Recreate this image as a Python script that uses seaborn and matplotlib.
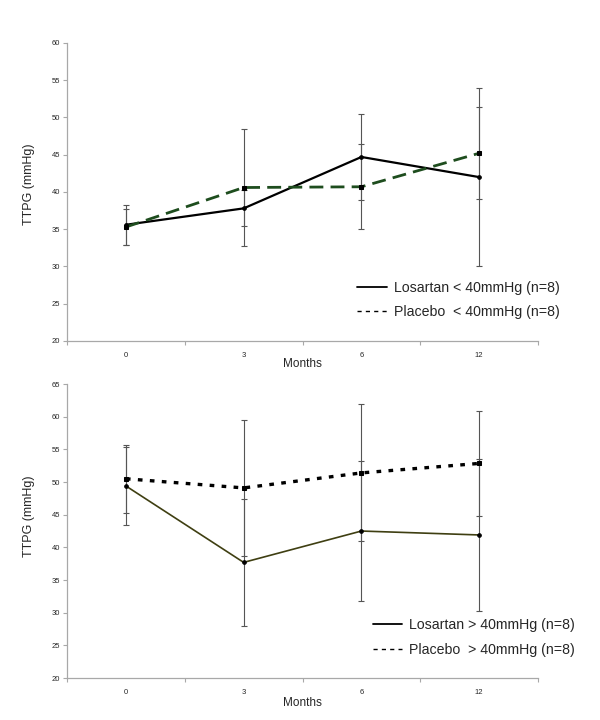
import matplotlib
matplotlib.use("Agg")
import matplotlib.pyplot as plt
from matplotlib.lines import Line2D
import seaborn as sns
import pandas as pd
import numpy as np

months = ["0", "3", "6", "12"]

top_losartan = [35.6, 37.8, 44.7, 42.0]
top_losartan_err = [2.65, 2.4, 5.8, 11.9]
top_placebo = [35.3, 40.6, 40.7, 45.2]
top_placebo_err = [2.4, 7.9, 5.7, 6.2]

bot_losartan = [49.4, 37.7, 42.5, 41.9]
bot_losartan_err = [6.0, 9.7, 10.7, 11.6]
bot_placebo = [50.5, 49.1, 51.4, 52.85]
bot_placebo_err = [5.2, 10.4, 10.5, 8.0]

top_labels = ["Losartan < 40mmHg (n=8)", "Placebo  < 40mmHg (n=8)"]
bot_labels = ["Losartan > 40mmHg (n=8)", "Placebo  > 40mmHg (n=8)"]

sns.set_style("white")
plt.rcParams["font.family"] = ["Liberation Sans", "DejaVu Sans"]

fig = plt.figure(figsize=(6, 7.2), dpi=100)
ax1 = fig.add_axes([0.1117, 0.5264, 0.785, 0.4139])
ax2 = fig.add_axes([0.1117, 0.0583, 0.785, 0.4083])

axis_col = "#a8a8a8"
err_col = "#555555"


def style_axis(ax, ylim, yticks, ylab_y, xlab_y):
    ax.set_xlim(-0.5, 3.5)
    ax.set_ylim(*ylim)
    ax.set_yticks(yticks)
    ax.set_yticklabels([str(v) for v in yticks], fontsize=5.5)
    ax.set_xticks(range(len(months)))
    ax.set_xticklabels(months, fontsize=5.5)
    ax.set_xticks(np.arange(-0.5, len(months)), minor=True)
    ax.tick_params(axis="x", which="major", length=0, pad=8)
    ax.tick_params(axis="x", which="minor", length=3, color=axis_col, width=0.8, direction="out", bottom=True)
    ax.tick_params(axis="y", which="major", length=3, color=axis_col, width=0.8, direction="out", left=True, pad=2)
    for s in ["top", "right"]:
        ax.spines[s].set_visible(False)
    for s in ["left", "bottom"]:
        ax.spines[s].set_color(axis_col)
        ax.spines[s].set_linewidth(0.9)
    ax.set_xlabel("Months", fontsize=8.5)
    ax.set_ylabel("TTPG (mmHg)", fontsize=9)
    ax.yaxis.set_label_coords(-0.068, ylab_y)
    ax.xaxis.set_label_coords(0.5, xlab_y)
    ax.grid(False)


def draw(ax, vals, errs, color, dashes, lw, marker, ms):
    xpos = np.arange(len(months))
    df = pd.DataFrame({"month": months, "x": xpos, "val": vals})
    ax.errorbar(xpos, vals, yerr=errs, fmt="none", ecolor=err_col, elinewidth=0.8,
                capsize=2.2, capthick=0.8, zorder=2)
    sns.lineplot(data=df, x="x", y="val", ax=ax, color=color, lw=lw, sort=False,
                 marker=marker, markersize=ms, markerfacecolor="black", markeredgecolor="black",
                 dashes=False, zorder=3)
    line = ax.lines[-1]
    if dashes is not None:
        line.set_dashes(dashes)


draw(ax1, top_losartan, top_losartan_err, "black", None, 1.6, "o", 2.6)
draw(ax1, top_placebo, top_placebo_err, "#1e4d1e", (5, 2.6), 2.0, "s", 2.6)
draw(ax2, bot_losartan, bot_losartan_err, "#3f3f12", None, 1.2, "o", 2.6)
draw(ax2, bot_placebo, bot_placebo_err, "black", (1.4, 2.2), 2.4, "s", 3.0)

style_axis(ax1, (20, 60), list(range(20, 61, 5)), 0.527, -0.057)
style_axis(ax2, (20, 65), list(range(20, 66, 5)), 0.551, -0.065)

for labels, anchor, sp in [(top_labels, (0.595, 0.610), 0.75), (bot_labels, (0.621, 0.142), 0.8)]:
    handles = [Line2D([], [], color="black", lw=1.3),
               Line2D([], [], color="black", lw=1.0, dashes=(3, 3))]
    fig.legend(handles, labels, loc="upper left", bbox_to_anchor=anchor, frameon=False,
               fontsize=10.2, handlelength=2.1, handletextpad=0.5, labelspacing=sp,
               borderaxespad=0, borderpad=0)

fig.savefig("out.png", dpi=100)
